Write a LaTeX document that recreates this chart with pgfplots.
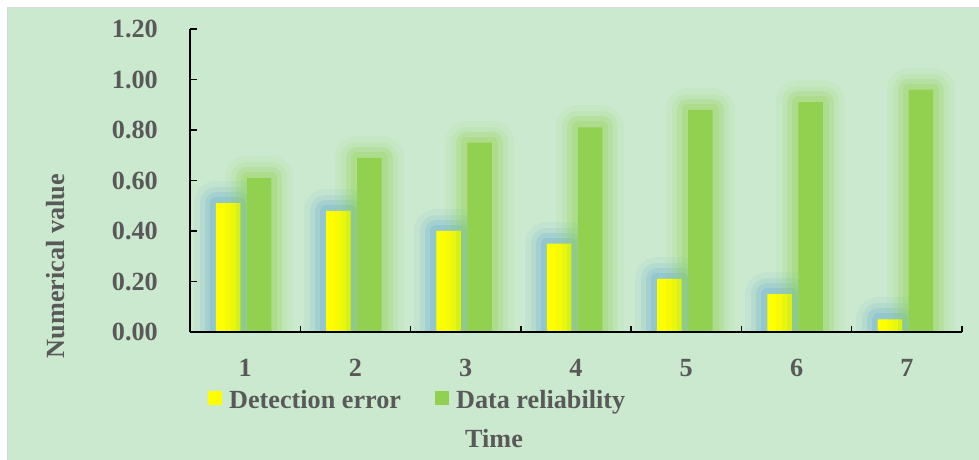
\documentclass[border=0pt]{standalone}
\usepackage{pgfplots}
\pgfplotsset{compat=1.18}
\usepackage{fontspec}
\setmainfont{Liberation Serif}
\definecolor{bgc}{HTML}{CBE9CF}
\definecolor{txt}{HTML}{595959}
\definecolor{ybarc}{HTML}{FFFF00}
\definecolor{gbarc}{HTML}{92D050}
\definecolor{bglow}{HTML}{5AA6D0}
\definecolor{gglow}{HTML}{8ED24A}
\definecolor{bord}{HTML}{D9D9D9}
\newcommand{\bigfont}{\fontsize{26.3}{31}\selectfont\bfseries}
\pgfplotstableread{
x  err  rel
1  0.51 0.61
2  0.48 0.69
3  0.40 0.75
4  0.35 0.81
5  0.21 0.88
6  0.15 0.91
7  0.05 0.96
}\datatable
\begin{document}
\begin{tikzpicture}[x=1bp,y=1bp]
\path[use as bounding box] (0,0) rectangle (979,460);
\fill[white] (0,0) rectangle (979,460);
\fill[bgc] (7,0) rectangle (979,453);
\draw[bord, line width=1bp] (7.5,0) -- (7.5,452.5) -- (979,452.5);
\begin{axis}[
  at={(190bp,128bp)}, anchor=south west,
  scale only axis, width=772bp, height=303bp,
  xmin=0.5, xmax=7.5, ymin=0, ymax=1.2,
  axis x line*=bottom, axis y line*=left,
  axis line style={black, line width=1.5bp, -},
  tick align=inside,
  xtick={1,2,3,4,5,6,7},
  major x tick style={draw=none},
  minor xtick={1.5,2.5,3.5,4.5,5.5,6.5,7.5},
  minor tick length=6bp,
  minor x tick style={black, line width=1.5bp},
  ytick={0,0.2,0.4,0.6,0.8,1.0,1.2},
  major tick length=7bp,
  y tick style={black, line width=1.5bp},
  /pgf/number format/assume math mode=true,
  yticklabel style={/pgf/number format/fixed, /pgf/number format/fixed zerofill, /pgf/number format/precision=2, xshift=-32bp},
  ticklabel style={font=\bigfont, text=txt, inner sep=0pt},
  xticklabel style={yshift=-27bp},
  ylabel={Numerical value},
  ylabel style={at={(axis description cs:-0.1736,0.2178)}, anchor=center, font=\bigfont, text=txt, inner sep=0pt},
  xlabel={Time},
  xlabel style={at={(axis description cs:0.3938,-0.3531)}, anchor=center, font=\bigfont, text=txt, inner sep=0pt},
  legend style={at={(axis description cs:0.0233,-0.2244)}, anchor=west, draw=none, fill=none,
    inner sep=0pt, legend columns=2, font=\bigfont, text=txt,
    nodes={inner sep=0pt},
    /tikz/every odd column/.append style={column sep=7bp},
    /tikz/every even column/.append style={column sep=34bp}},
  legend image code/.code={\fill[#1] (0bp,-5.5bp) rectangle (14bp,8.5bp);},
  axis on top,
  glowb/.style={ybar, bar width=24.5bp, bar shift=-17bp, fill=none, draw=bglow, line join=round, forget plot},
  glowg/.style={ybar, bar width=24.5bp, bar shift=14bp, fill=none, draw=gglow, line join=round, forget plot},
]
% yellow glow
\addplot[glowb, draw opacity=0.08, line width=44bp] table[x=x, y=err] {\datatable};
\addplot[glowb, draw opacity=0.12, line width=32bp] table[x=x, y=err] {\datatable};
\addplot[glowb, draw opacity=0.18, line width=22bp] table[x=x, y=err] {\datatable};
\addplot[glowb, draw opacity=0.22, line width=12bp] table[x=x, y=err] {\datatable};
% yellow bars
\addplot[ybar, bar width=24.5bp, bar shift=-17bp, fill=ybarc, draw=none] table[x=x, y=err] {\datatable};
\addlegendentry{Detection error}
% green glow
\addplot[glowg, draw opacity=0.08, line width=44bp] table[x=x, y=rel] {\datatable};
\addplot[glowg, draw opacity=0.12, line width=32bp] table[x=x, y=rel] {\datatable};
\addplot[glowg, draw opacity=0.18, line width=22bp] table[x=x, y=rel] {\datatable};
\addplot[glowg, draw opacity=0.22, line width=12bp] table[x=x, y=rel] {\datatable};
% green bars
\addplot[ybar, bar width=24.5bp, bar shift=14bp, fill=gbarc, draw=none] table[x=x, y=rel] {\datatable};
\addlegendentry{Data reliability}
\end{axis}
\end{tikzpicture}
\end{document}
